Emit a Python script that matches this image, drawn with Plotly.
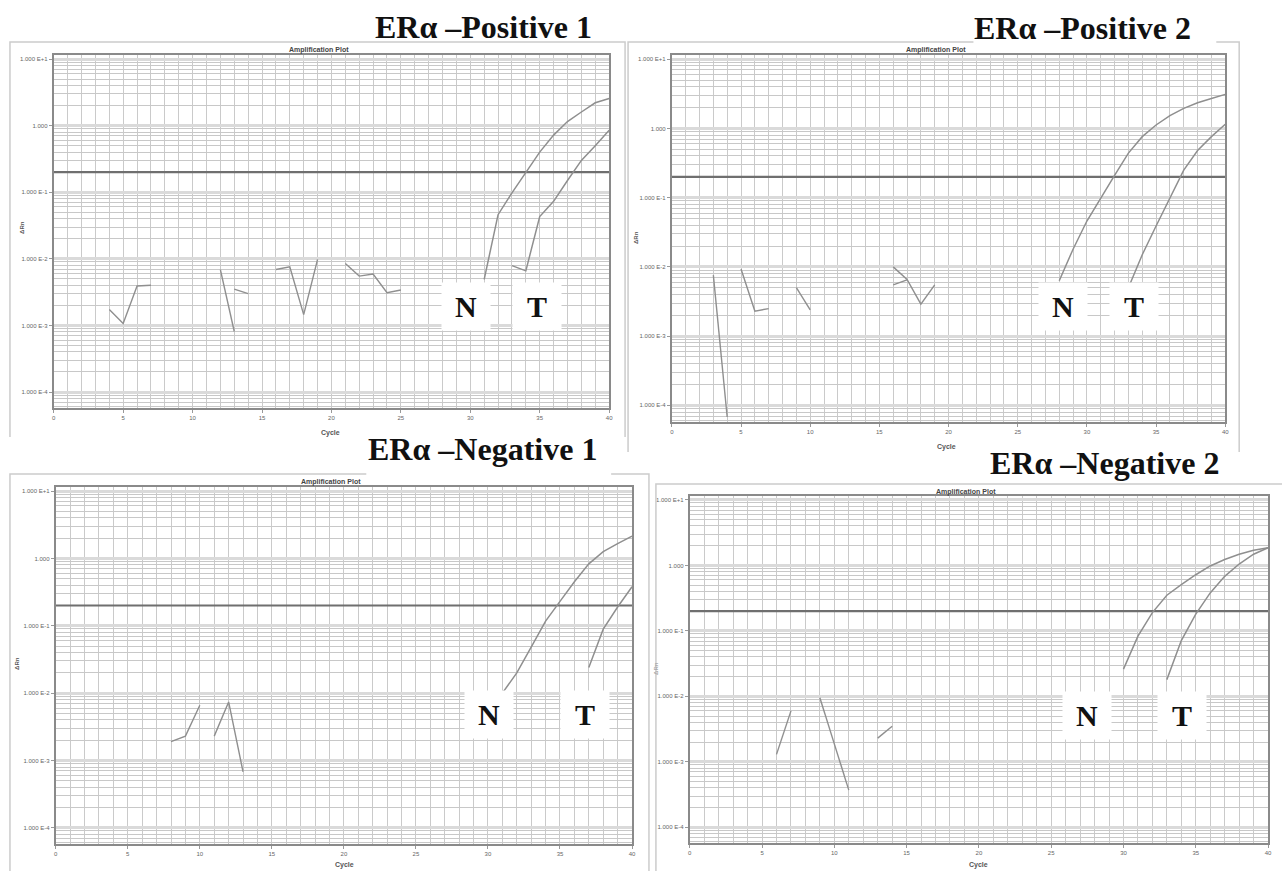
import plotly.graph_objects as go

W, H = 1282, 871

# ------------------------------------------------------------------ data
CYCLE_TICKS = [0, 5, 10, 15, 20, 25, 30, 35, 40]
Y_TICK_VALUES = [1e-4, 1e-3, 1e-2, 1e-1, 1, 10]
Y_TICK_TEXT = ["1.000 E-4", "1.000 E-3", "1.000 E-2", "1.000 E-1", "1.000", "1.000 E+1"]
THRESHOLD = 0.2
TITLES = ["ERα –Positive 1", "ERα –Positive 2", "ERα –Negative 1", "ERα –Negative 2"]

# Positive 1
P1_NOISE_CYCLES = [[4, 5, 6, 7], [12, 13], [13, 14], [16, 17, 18, 19], [21, 22, 23, 24, 25]]
P1_NOISE_VALUES = [[0.00174, 0.00107, 0.0039, 0.0040], [0.0069, 0.00081], [0.0035, 0.0030],
                   [0.0069, 0.0076, 0.00145, 0.0098], [0.0085, 0.0055, 0.0059, 0.0031, 0.0034]]
P1_N_CYCLES = [31, 32, 33, 34, 35, 36, 37, 38, 39, 40]
P1_N_VALUES = [0.0049, 0.046, 0.098, 0.195, 0.40, 0.72, 1.15, 1.6, 2.2, 2.55]
P1_T_CYCLES = [33, 34, 35, 36, 37, 38, 39, 40]
P1_T_VALUES = [0.0079, 0.0066, 0.043, 0.073, 0.15, 0.30, 0.50, 0.85]

# Positive 2
P2_NOISE_CYCLES = [[3, 4], [5, 6, 7], [9, 10], [16, 17, 18, 19], [16, 17]]
P2_NOISE_VALUES = [[0.0076, 0.000068], [0.0093, 0.0023, 0.0025], [0.0050, 0.0024],
                   [0.0100, 0.0066, 0.0029, 0.0055], [0.0055, 0.0065]]
P2_N_CYCLES = [28, 29, 30, 31, 32, 33, 34, 35, 36, 37, 38, 39, 40]
P2_N_VALUES = [0.0063, 0.018, 0.046, 0.10, 0.21, 0.44, 0.76, 1.12, 1.53, 1.95, 2.35, 2.7, 3.1]
P2_T_CYCLES = [33, 34, 35, 36, 37, 38, 39, 40]
P2_T_VALUES = [0.005, 0.015, 0.039, 0.10, 0.25, 0.48, 0.76, 1.15]

# Negative 1
P3_NOISE_CYCLES = [[8, 9, 10], [11, 12, 13]]
P3_NOISE_VALUES = [[0.0019, 0.0023, 0.0066], [0.0023, 0.0074, 0.00068]]
P3_N_CYCLES = [31, 32, 33, 34, 35, 36, 37, 38, 39, 40]
P3_N_VALUES = [0.010, 0.020, 0.048, 0.117, 0.23, 0.45, 0.83, 1.26, 1.66, 2.14]
P3_T_CYCLES = [37, 38, 39, 40]
P3_T_VALUES = [0.024, 0.089, 0.19, 0.38]

# Negative 2
P4_NOISE_CYCLES = [[6, 7], [9, 10, 11], [13, 14]]
P4_NOISE_VALUES = [[0.0013, 0.0060], [0.0095, 0.0019, 0.00037], [0.0023, 0.0035]]
P4_N_CYCLES = [30, 31, 32, 33, 34, 35, 36, 37, 38, 39, 40]
P4_N_VALUES = [0.026, 0.083, 0.19, 0.35, 0.51, 0.72, 0.98, 1.23, 1.48, 1.70, 1.86]
P4_T_CYCLES = [33, 34, 35, 36, 37, 38, 39, 40]
P4_T_VALUES = [0.018, 0.071, 0.18, 0.38, 0.68, 1.05, 1.48, 1.86]

DATA = [
    (P1_NOISE_CYCLES, P1_NOISE_VALUES, P1_N_CYCLES, P1_N_VALUES, P1_T_CYCLES, P1_T_VALUES),
    (P2_NOISE_CYCLES, P2_NOISE_VALUES, P2_N_CYCLES, P2_N_VALUES, P2_T_CYCLES, P2_T_VALUES),
    (P3_NOISE_CYCLES, P3_NOISE_VALUES, P3_N_CYCLES, P3_N_VALUES, P3_T_CYCLES, P3_T_VALUES),
    (P4_NOISE_CYCLES, P4_NOISE_VALUES, P4_N_CYCLES, P4_N_VALUES, P4_T_CYCLES, P4_T_VALUES),
]

# ------------------------------------------------------------------ layout (pixels)
PANELS = [
    dict(plot=(52, 55, 610, 408), frame=(8, 42, 626, 437), title=(484, 27),
         amp=(318, 50), cycle=(330, 433), drn=(20, 227), N=(466, 306.5), T=(537.5, 306.5)),
    dict(plot=(673, 55, 1229, 422), frame=(629, 42, 1243, 452), title=(1086, 28),
         amp=(938, 50), cycle=(949, 447), drn=(637, 238), N=(1065.5, 307), T=(1137.5, 307)),
    dict(plot=(54, 487, 633, 844), frame=(8, 474, 650, 880), title=(483, 449),
         amp=(331, 482), cycle=(344, 865), drn=(15, 663), N=(489.5, 714), T=(585.5, 714)),
    dict(plot=(691, 496, 1272, 843), frame=(657, 484, 1290, 880), title=(1108, 463),
         amp=(969, 492), cycle=(981, 865), drn=(657, 668), N=(1090, 715), T=(1186, 715)),
]
COVERS = [(976, 30, 1220, 45), (366, 436, 612, 477)]

LINE_COLOR = "#8f8f8f"
Y_RANGE = [-4.24, 1.06]


def fx(x):
    return x / W


def fy(y):
    return 1 - y / H


fig = go.Figure()
shapes = []
annotations = []
small_font = dict(family="Liberation Sans, Arial, sans-serif", size=6, color="#666666")

for i, (panel, data) in enumerate(zip(PANELS, DATA)):
    idx = "" if i == 0 else str(i + 1)
    xa, ya = "x" + idx, "y" + idx
    noise_c, noise_v, n_c, n_v, t_c, t_v = data

    for c, v in zip(noise_c, noise_v):
        fig.add_trace(go.Scatter(x=c, y=v, mode="lines", xaxis=xa, yaxis=ya,
                                 line=dict(color=LINE_COLOR, width=1.4), showlegend=False,
                                 hoverinfo="skip"))
    fig.add_trace(go.Scatter(x=[0, 40], y=[THRESHOLD, THRESHOLD], mode="lines", xaxis=xa, yaxis=ya,
                             line=dict(color="#6f6f6f", width=2.2), showlegend=False, hoverinfo="skip"))
    for c, v in ((n_c, n_v), (t_c, t_v)):
        fig.add_trace(go.Scatter(x=c, y=v, mode="lines", xaxis=xa, yaxis=ya,
                                 line=dict(color=LINE_COLOR, width=1.5), showlegend=False,
                                 hoverinfo="skip"))

    x0, y0, x1, y1 = panel["plot"]
    axis_common = dict(showline=True, linecolor="#8a8a8a", linewidth=2, mirror=True,
                       ticks="outside", ticklen=3, tickcolor="#999999", tickfont=small_font,
                       zeroline=False)
    fig.layout["xaxis" + idx] = dict(
        domain=[fx(x0), fx(x1)], anchor=ya, range=[0, 40],
        tickmode="array", tickvals=CYCLE_TICKS, ticktext=[str(t) for t in CYCLE_TICKS],
        showgrid=True, gridcolor="#cacaca", gridwidth=1,
        minor=dict(dtick=1, showgrid=True, gridcolor="#cacaca", gridwidth=1, ticks=""),
        **axis_common)
    fig.layout["yaxis" + idx] = dict(
        domain=[fy(y1), fy(y0)], anchor=xa, type="log", range=Y_RANGE,
        tickmode="array", tickvals=Y_TICK_VALUES, ticktext=Y_TICK_TEXT,
        showgrid=True, gridcolor="#dadada", gridwidth=3,
        minor=dict(dtick="D1", showgrid=True, gridcolor="#c8c8c8", gridwidth=1, ticks=""),
        **axis_common)

    # window frame (open at the bottom)
    fx0, fy0, fx1, fy1 = panel["frame"]
    shapes.append(dict(type="path", xref="paper", yref="paper",
                       path=f"M {fx(fx0)} {fy(fy1)} L {fx(fx0)} {fy(fy0)} L {fx(fx1)} {fy(fy0)} L {fx(fx1)} {fy(fy1)}",
                       line=dict(color="#cccccc", width=1.5)))

    # texts
    tx, ty = panel["title"]
    annotations.append(dict(text="<b>" + TITLES[i] + "</b>", x=fx(tx), y=fy(ty), xref="paper", yref="paper",
                            showarrow=False, xanchor="center", yanchor="middle",
                            font=dict(family="Liberation Serif, Times New Roman, serif", size=32, color="#111111")))
    ax, ay = panel["amp"]
    annotations.append(dict(text="<b>Amplification Plot</b>", x=fx(ax), y=fy(ay), xref="paper", yref="paper",
                            showarrow=False, xanchor="center", yanchor="middle",
                            font=dict(family="Liberation Sans, Arial, sans-serif", size=7, color="#444444")))
    cx, cy = panel["cycle"]
    annotations.append(dict(text="<b>Cycle</b>", x=fx(cx), y=fy(cy), xref="paper", yref="paper",
                            showarrow=False, xanchor="center", yanchor="middle",
                            font=dict(family="Liberation Sans, Arial, sans-serif", size=7, color="#555555")))
    dx, dy = panel["drn"]
    annotations.append(dict(text="<b>ΔRn</b>", x=fx(dx), y=fy(dy), xref="paper", yref="paper",
                            showarrow=False, xanchor="center", yanchor="middle", textangle=-90,
                            font=dict(family="Liberation Sans, Arial, sans-serif", size=6,
                                      color="#555555" if i != 3 else "#aaaaaa")))
    for label in ("N", "T"):
        lx, ly = panel[label]
        annotations.append(dict(text="<b>" + label + "</b>", x=fx(lx), y=fy(ly), xref="paper", yref="paper",
                                showarrow=False, xanchor="center", yanchor="middle",
                                width=48, height=47, bgcolor="white", borderpad=0,
                                font=dict(family="Liberation Serif, Times New Roman, serif", size=30,
                                          color="#111111")))

for (cx0, cy0, cx1, cy1) in COVERS:
    shapes.append(dict(type="rect", xref="paper", yref="paper", x0=fx(cx0), x1=fx(cx1),
                       y0=fy(cy1), y1=fy(cy0), fillcolor="white", line=dict(width=0)))

fig.update_layout(width=W, height=H, margin=dict(l=0, r=0, t=0, b=0),
                  paper_bgcolor="white", plot_bgcolor="white",
                  shapes=shapes, annotations=annotations, showlegend=False)

fig.write_html("out.html", config={"displayModeBar": False},
               post_script="document.body.style.margin='0';document.body.style.overflow='hidden';")
